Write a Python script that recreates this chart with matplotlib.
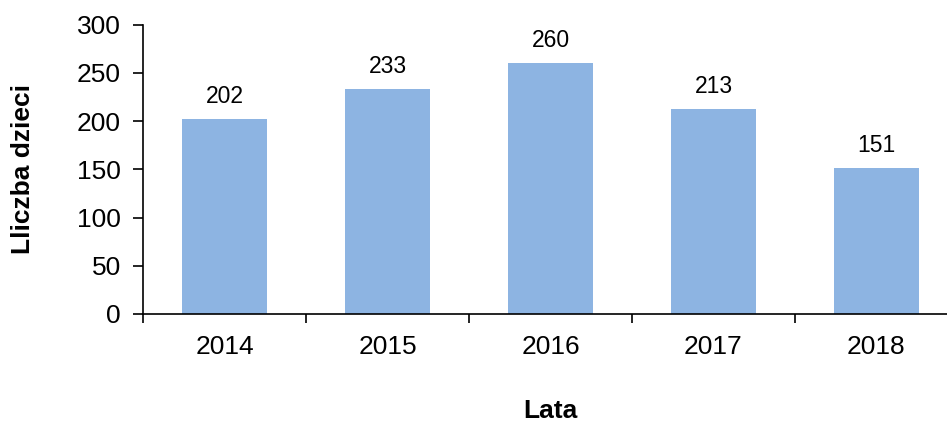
import matplotlib.pyplot as plt

plt.rcParams['font.family'] = ['Liberation Sans', 'DejaVu Sans']

years = ['2014', '2015', '2016', '2017', '2018']
counts = [202, 233, 260, 213, 151]

fig = plt.figure(figsize=(9.47, 4.23), dpi=100)
ax = fig.add_axes([0.151, 0.2577, 0.849, 0.684])

x = list(range(len(years)))
ax.bar(x, counts, width=0.52, color='#8DB4E2', zorder=2)
for xi, v in zip(x, counts):
    ax.text(xi, v + 16.5, str(v), ha='center', va='baseline', fontsize=16.5)

ax.set_xlim(-0.5, 4.433)
ax.set_ylim(0, 300)
ax.set_yticks(range(0, 301, 50))
ax.tick_params(axis='y', labelsize=19, length=7, width=1.2, direction='out', pad=9)

# category labels centred, tick marks between categories
ax.set_xticks([-0.5, 0.5, 1.5, 2.5, 3.5])
ax.set_xticklabels([])
ax.set_xticks(x, minor=True)
ax.set_xticklabels(years, minor=True)
ax.tick_params(axis='x', which='major', length=6.5, width=1.2, direction='out')
ax.tick_params(axis='x', which='minor', length=0, labelsize=19, pad=15)

for s in ['top', 'right']:
    ax.spines[s].set_visible(False)
ax.spines['left'].set_linewidth(1.2)
ax.spines['bottom'].set_linewidth(1.2)

ax.set_ylabel('Lliczba dzieci', fontsize=19, fontweight='bold', va='center')
ax.yaxis.set_label_coords(-0.149, 0.5)
ax.set_xlabel('Lata', fontsize=19, fontweight='bold', va='center')
ax.xaxis.set_label_coords(0.507, -0.337)

fig.savefig('out.png', dpi=100)
